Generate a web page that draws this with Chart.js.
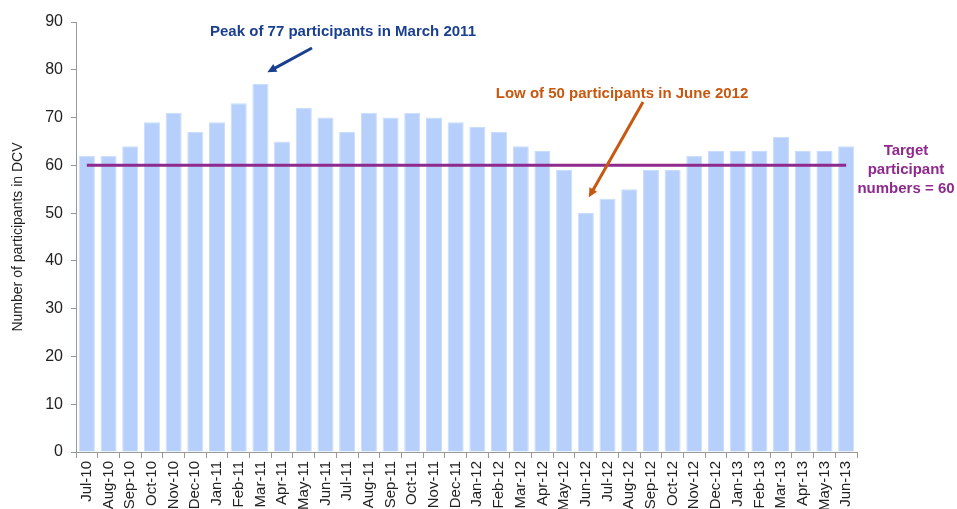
<!DOCTYPE html>
<html>
<head>
<meta charset="utf-8">
<script src="https://cdn.jsdelivr.net/npm/chart.js@4"></script>
<style>
  html, body { margin: 0; padding: 0; background: #fff; }
  #wrap { width: 957px; height: 509px; }
</style>
</head>
<body>
<div id="wrap"><canvas id="dcvChart" width="957" height="509"></canvas></div>
<script>
// Bulan (Jul-10 sampai Jun-13)
const months = [
  "Jul-10", "Aug-10", "Sep-10", "Oct-10", "Nov-10", "Dec-10",
  "Jan-11", "Feb-11", "Mar-11", "Apr-11", "May-11", "Jun-11",
  "Jul-11", "Aug-11", "Sep-11", "Oct-11", "Nov-11", "Dec-11",
  "Jan-12", "Feb-12", "Mar-12", "Apr-12", "May-12", "Jun-12",
  "Jul-12", "Aug-12", "Sep-12", "Oct-12", "Nov-12", "Dec-12",
  "Jan-13", "Feb-13", "Mar-13", "Apr-13", "May-13", "Jun-13"
];

// Jumlah peserta per bulan
const participants = [
  62, 62, 64, 69, 71, 67,
  69, 73, 77, 65, 72, 70,
  67, 71, 70, 71, 70, 69,
  68, 67, 64, 63, 59, 50,
  53, 55, 59, 59, 62, 63,
  63, 63, 66, 63, 63, 64
];

// Target peserta
const targetValue = 60;
const target = months.map(() => targetValue);

const yTicks = [0, 10, 20, 30, 40, 50, 60, 70, 80, 90];

const font = "'Liberation Sans', Arial, sans-serif";

// Gambar panah sederhana
function drawArrow(ctx, x1, y1, x2, y2, color) {
  const angle = Math.atan2(y2 - y1, x2 - x1);
  const head = 10;
  ctx.save();
  ctx.strokeStyle = color;
  ctx.fillStyle = color;
  ctx.lineWidth = 3;
  ctx.beginPath();
  ctx.moveTo(x1, y1);
  ctx.lineTo(x2 - Math.cos(angle) * head * 0.8, y2 - Math.sin(angle) * head * 0.8);
  ctx.stroke();
  ctx.beginPath();
  ctx.moveTo(x2, y2);
  ctx.lineTo(x2 - head * Math.cos(angle - 0.45), y2 - head * Math.sin(angle - 0.45));
  ctx.lineTo(x2 - head * Math.cos(angle + 0.45), y2 - head * Math.sin(angle + 0.45));
  ctx.closePath();
  ctx.fill();
  ctx.restore();
}

// Plugin untuk teks keterangan dan panah
const annotationPlugin = {
  id: "annotations",
  afterDraw(chart) {
    const ctx = chart.ctx;
    const x = chart.scales.x;
    const y = chart.scales.y;

    ctx.save();
    ctx.font = "bold 15px " + font;
    ctx.textAlign = "center";
    ctx.textBaseline = "middle";

    // Puncak
    ctx.fillStyle = "#1a3f8f";
    ctx.fillText("Peak of 77 participants in March 2011", 343, 32);
    const peakX = x.getPixelForValue(8) + 7;
    drawArrow(ctx, 312, 48, peakX, y.getPixelForValue(79.5), "#1a3f8f");

    // Terendah
    ctx.fillStyle = "#c8570f";
    ctx.fillText("Low of 50 participants in June 2012", 622, 94);
    const lowX = x.getPixelForValue(23) + 3;
    drawArrow(ctx, 643, 102, lowX, y.getPixelForValue(53.3), "#c8570f");

    // Target
    ctx.fillStyle = "#8e2a8e";
    ctx.fillText("Target", 906, 151);
    ctx.fillText("participant", 906, 170);
    ctx.fillText("numbers = 60", 906, 189);
    ctx.restore();
  }
};

const ctx = document.getElementById("dcvChart").getContext("2d");
new Chart(ctx, {
  type: "bar",
  data: {
    labels: months,
    datasets: [
      {
        type: "line",
        label: "Target",
        data: target,
        borderColor: "#8e2a8e",
        borderWidth: 3,
        pointRadius: 0,
        fill: false,
        order: 0
      },
      {
        label: "Participants",
        data: participants,
        backgroundColor: "#b6d0fb",
        borderColor: "#c9ddfc",
        borderWidth: 1,
        barPercentage: 0.74,
        categoryPercentage: 1.0,
        order: 1
      }
    ]
  },
  options: {
    responsive: false,
    animation: false,
    layout: { padding: { left: 10, right: 100, top: 22, bottom: 0 } },
    plugins: {
      legend: { display: false },
      tooltip: { enabled: false }
    },
    scales: {
      x: {
        grid: {
          display: true,
          drawOnChartArea: false,
          drawTicks: true,
          tickLength: 6,
          color: "#999",
          offset: true
        },
        border: { color: "#999" },
        ticks: {
          color: "#222",
          font: { family: font, size: 15 },
          minRotation: 90,
          maxRotation: 90,
          autoSkip: false,
          padding: 3
        },
        afterFit(scale) { scale.height = 57; }
      },
      y: {
        min: 0,
        max: 90,
        afterBuildTicks(scale) { scale.ticks = yTicks.map(v => ({ value: v })); },
        grid: {
          display: true,
          drawOnChartArea: false,
          drawTicks: true,
          tickLength: 5,
          color: "#999"
        },
        border: { color: "#999" },
        ticks: {
          color: "#222",
          font: { family: font, size: 16 },
          padding: 8
        },
        title: {
          display: true,
          text: "Number of participants in DCV",
          color: "#222",
          font: { family: font, size: 14 },
          padding: { top: 0, bottom: 0 }
        },
        afterFit(scale) { scale.width = 66; }
      }
    }
  },
  plugins: [annotationPlugin]
});
</script>
</body>
</html>
